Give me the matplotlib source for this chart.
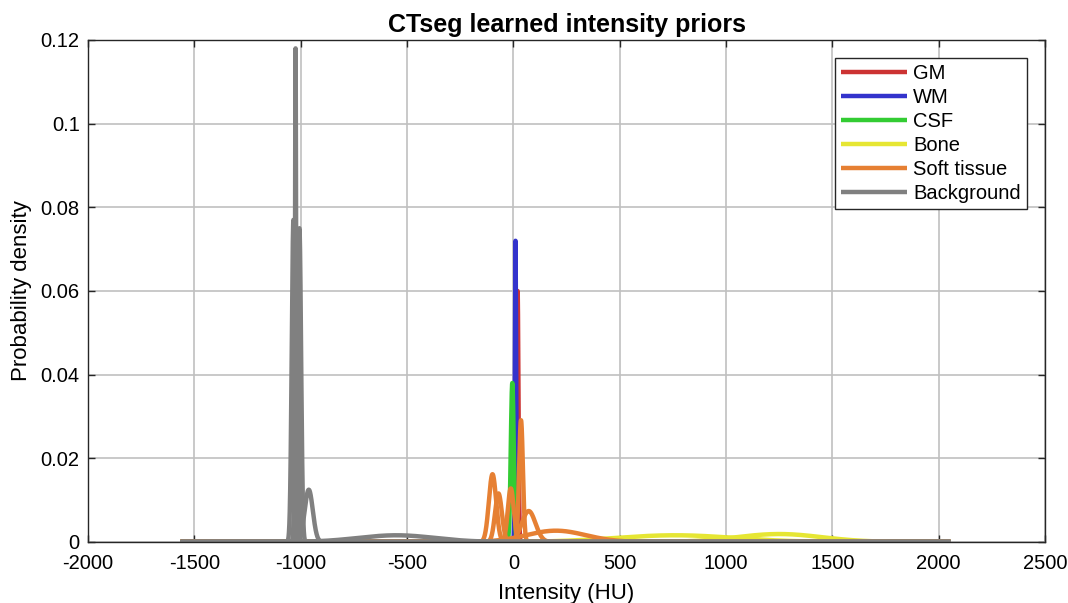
import numpy as np
import matplotlib.pyplot as plt

plt.rcParams['font.family'] = ['Liberation Sans', 'DejaVu Sans']
plt.rcParams['axes.unicode_minus'] = False

# Gaussian components of each class (mean HU, std HU, peak density):
class_names = ['GM', 'WM', 'CSF', 'Bone', 'Soft tissue', 'Background']

gm_means = [20]
gm_stds = [4]
gm_peaks = [0.060]

wm_means = [10]
wm_stds = [3]
wm_peaks = [0.072]

csf_means = [-5]
csf_stds = [7]
csf_peaks = [0.038]

bone_means = [760, 1250]
bone_stds = [280, 200]
bone_peaks = [0.0016, 0.0019]

soft_means = [-98, -70, -12, 36, 72, 200]
soft_stds = [17, 16, 14, 9, 32, 140]
soft_peaks = [0.0162, 0.0116, 0.0128, 0.0291, 0.0074, 0.0027]

bg_means = [-1034, -1020, -1006, -1024, -962, -550]
bg_stds = [8, 6, 8, 2.5, 19, 180]
bg_peaks = [0.077, 0.072, 0.075, 0.118, 0.0125, 0.0016]

x_range = [-1565, 2055]

colors = ['#cc3333', '#3333cc', '#33cc33', '#e6e633', '#e68033', '#808080']

x = np.linspace(x_range[0], x_range[1], 40000)


def component(mean, std, peak):
    return peak * np.exp(-0.5 * ((x - mean) / std) ** 2)


fig = plt.figure(figsize=(10.68, 6.03), dpi=100)
ax = fig.add_axes([0.0824, 0.1012, 0.8961, 0.8325])

all_classes = [
    (gm_means, gm_stds, gm_peaks),
    (wm_means, wm_stds, wm_peaks),
    (csf_means, csf_stds, csf_peaks),
    (bone_means, bone_stds, bone_peaks),
    (soft_means, soft_stds, soft_peaks),
    (bg_means, bg_stds, bg_peaks),
]

# plot each gaussian of each class separately:
for name, color, (means, stds, peaks) in zip(class_names, colors, all_classes):
    for i, (m, s, p) in enumerate(zip(means, stds, peaks)):
        ax.plot(x, component(m, s, p), color=color, linewidth=3.2,
                label=name if i == 0 else None, solid_capstyle='butt')

ax.set_xlim(-2000, 2500)
ax.set_ylim(0, 0.12)
ax.set_xticks(np.arange(-2000, 2501, 500))
ax.set_yticks([0, 0.02, 0.04, 0.06, 0.08, 0.1, 0.12])
ax.set_yticklabels(['0', '0.02', '0.04', '0.06', '0.08', '0.1', '0.12'])

ax.grid(True, color='#c0c0c0', linewidth=1.2)
ax.set_axisbelow(True)
ax.tick_params(direction='in', top=True, right=True, length=5, width=1,
               labelsize=14.5, colors='#262626', labelcolor='black')
ax.tick_params(axis='x', pad=9)
ax.tick_params(axis='y', pad=6)
for spine in ax.spines.values():
    spine.set_color('#262626')
    spine.set_linewidth(1)

ax.set_xlabel('Intensity (HU)', fontsize=16, labelpad=7)
ax.set_ylabel('Probability density', fontsize=16, labelpad=6)
ax.set_title('CTseg learned intensity priors', fontsize=18, fontweight='bold', pad=6)

leg = ax.legend(loc='upper right', fontsize=14.5, handlelength=3.3, handletextpad=0.3,
                labelspacing=0.25, borderpad=0.3, fancybox=False, framealpha=1,
                edgecolor='#262626', borderaxespad=0.9)
leg.get_frame().set_linewidth(1)

fig.savefig('out.png', dpi=100)
